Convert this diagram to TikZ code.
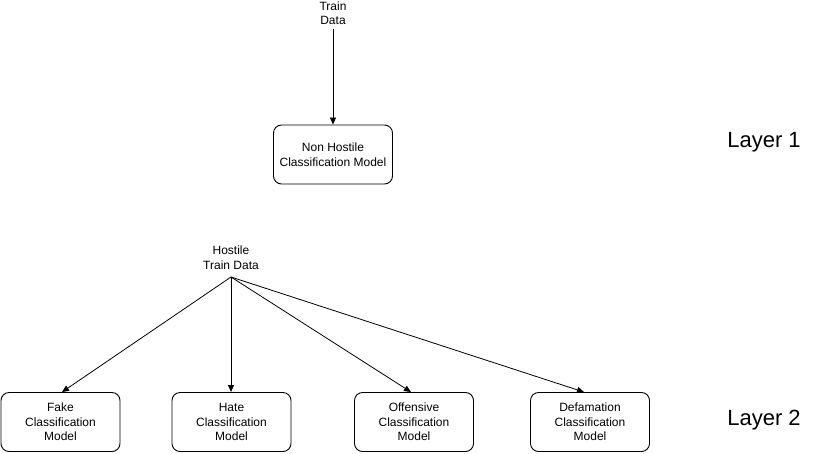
\documentclass[tikz,border=0pt]{standalone}
\usepackage{fontspec}
\setmainfont{Liberation Sans}
\usetikzlibrary{arrows.meta}
\begin{document}
\begin{tikzpicture}[x=1pt,y=-1pt,
  model/.style={draw,line width=0.9pt,rounded corners=8pt,minimum width=119pt,minimum height=59pt,
    align=center,font=\fontsize{12}{14.5}\selectfont,inner sep=0pt},
  lbl/.style={align=center,font=\fontsize{12}{14.5}\selectfont,inner sep=0pt},
  layer/.style={font=\fontsize{22}{26}\selectfont,inner sep=0pt},
  link/.style={line width=0.8pt,-{Triangle[length=7pt,width=6pt]}}]
\useasboundingbox (0,0) rectangle (821,453);
% layer 1
\node[lbl] (train) at (333,13) {Train\\Data};
\node[model] (nonhostile) at (333,154.5) {Non Hostile\\Classification Model};
\draw[link] (train.south) ++(0,4) coordinate (ts) -- (nonhostile.north);
% layer 2
\node[lbl] (hostile) at (231,257.5) {Hostile\\Train Data};
\coordinate (hs) at (231,277);
\node[model] (fake) at (60.5,422) {Fake\\Classification\\Model};
\node[model] (hate) at (231.5,422) {Hate\\Classification\\Model};
\node[model] (offensive) at (414,422) {Offensive\\Classification\\Model};
\node[model] (defamation) at (590,422) {Defamation\\Classification\\Model};
\draw[link] (hs) -- (fake.north -| 62,0);
\draw[link] (hs) -- (hate.north -| 231,0);
\draw[link] (hs) -- (offensive.north -| 411,0);
\draw[link] (hs) -- (defamation.north -| 584,0);
\node[layer] (l1) at (764,142) {Layer 1};
\node[layer] (l2) at (764,420) {Layer 2};
\end{tikzpicture}
\end{document}
